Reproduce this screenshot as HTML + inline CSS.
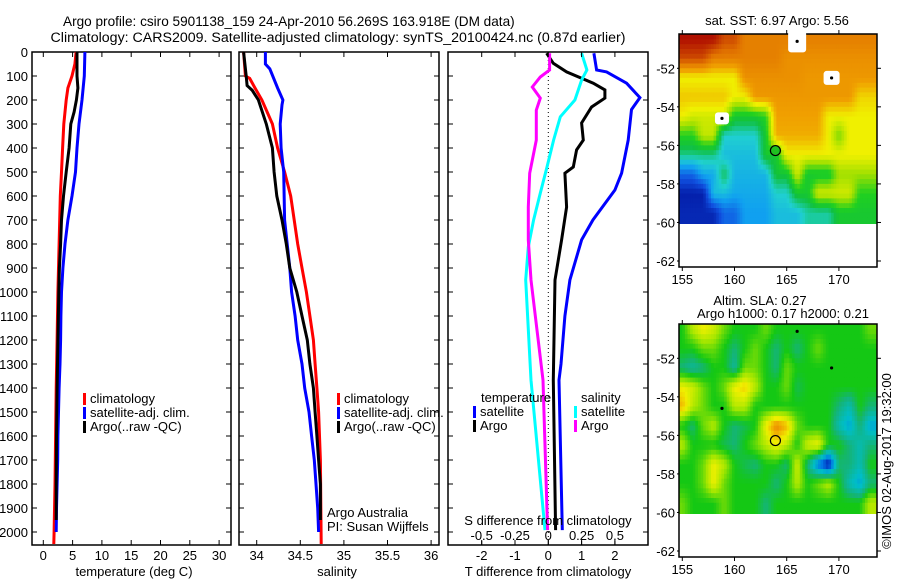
<!DOCTYPE html>
<html><head><meta charset="utf-8">
<style>
body{margin:0;background:#fff;}
svg{display:block;font-family:"Liberation Sans",sans-serif;}
text{fill:#000;}
</style></head>
<body>
<svg id="chart" width="900" height="580" viewBox="0 0 900 580" xmlns="http://www.w3.org/2000/svg">
<defs>
<clipPath id="clipA"><rect x="679" y="34" width="198" height="190"/></clipPath>
<clipPath id="clipB"><rect x="679" y="324" width="198" height="190"/></clipPath>
</defs>
<text x="63" y="26" font-size="13.6" text-anchor="start">Argo profile: csiro 5901138_159 24-Apr-2010 56.269S 163.918E (DM data)</text>
<text x="338" y="42" font-size="14.2" text-anchor="middle">Climatology: CARS2009. Satellite-adjusted climatology: synTS_20100424.nc (0.87d earlier)</text>
<g id="g"></g>
</svg>
<script>
// ---------- data ----------
const tempDepths=[0,50,100,150,200,300,400,500,600,700,800,900,1000,1200,1400,1600,1800,2000,2050];
const tempClim=[5.6,5.4,4.9,4.2,3.9,3.5,3.3,3.1,2.9,2.8,2.7,2.6,2.5,2.35,2.2,2.1,2.0,1.85,1.8];
const satDepths=[0,100,200,300,400,500,600,700,800,900,1000,1100,1200,1300,1400,1500,1600,1700,1800,1900,2000];
const tempSat=[7.1,7.0,6.6,6.1,5.75,5.5,4.9,4.2,3.7,3.35,3.1,3.0,2.95,2.85,2.7,2.6,2.5,2.45,2.35,2.25,2.2];
const argoDepths=[0,100,150,200,250,300,400,500,600,700,800,900,1000,1200,1400,1600,1800,1950];
const tempArgo=[5.75,5.75,5.9,5.65,5.25,4.7,4.4,3.9,3.45,3.1,2.95,2.75,2.65,2.5,2.35,2.25,2.2,2.2];

const salClimDepths=[0,100,110,150,200,300,400,500,600,700,800,900,1000,1100,1200,1300,1400,1500,1700,2050];
const salClim=[33.85,33.87,33.92,33.98,34.06,34.18,34.24,34.32,34.39,34.43,34.47,34.52,34.57,34.61,34.65,34.67,34.69,34.71,34.73,34.74];
const salSatDepths=[0,50,70,150,200,220,300,400,500,700,800,900,1000,1100,1200,1300,1400,1500,1600,1700,1800,1900,2000];
const salSat=[34.1,34.1,34.15,34.24,34.3,34.29,34.27,34.28,34.31,34.32,34.35,34.38,34.4,34.44,34.47,34.52,34.55,34.6,34.63,34.66,34.68,34.7,34.71];
const salArgoDepths=[0,100,140,160,200,300,400,500,600,700,800,900,1000,1100,1200,1300,1400,1500,1600,1700,1800,1950];
const salArgo=[33.85,33.88,33.89,33.95,34.02,34.11,34.18,34.2,34.23,34.29,34.34,34.38,34.46,34.52,34.58,34.61,34.65,34.67,34.69,34.71,34.73,34.73];

const dTSatDepths=[5,75,83,130,190,240,367,505,575,700,783,950,1100,1300,1367,1992];
const dTSat=[1.37,1.45,1.75,2.35,2.75,2.5,2.4,2.2,2.0,1.34,1.0,0.65,0.5,0.38,0.32,0.42];
const dTArgoDepths=[5,47,83,130,158,192,229,296,367,408,479,505,646,783,950,1367,1992];
const dTArgo=[-0.05,0.15,0.55,1.35,1.7,1.7,1.3,1.0,1.05,0.85,0.75,0.5,0.55,0.4,0.2,0.15,0.22];
const dSSatDepths=[5,75,117,200,270,367,479,588,700,812,950,1367,1992];
const dSSat=[0.25,0.29,0.25,0.2,0.09,0.04,-0.01,-0.06,-0.11,-0.15,-0.17,-0.13,-0.025];
const dSArgoDepths=[5,75,104,146,192,242,367,505,646,783,950,1367,1992];
const dSArgo=[0.01,0.01,-0.06,-0.12,-0.06,-0.09,-0.09,-0.14,-0.15,-0.15,-0.13,-0.04,-0.005];

const depthTicks=[0,100,200,300,400,500,600,700,800,900,1000,1100,1200,1300,1400,1500,1600,1700,1800,1900,2000];
const tempTicks=[0,5,10,15,20,25,30];
const salTicks=[34,34.5,35,35.5,36];
const salTickLabels=["34","34.5","35","35.5","36"];
const dTTicks=[-2,-1,0,1,2];
const dSTicks=[-0.5,-0.25,0,0.25,0.5];
const dSTickLabels=["-0.5","-0.25","0","0.25","0.5"];
const lonTicks=[155,160,165,170];
const latTicks=[-52,-54,-56,-58,-60,-62];

const sstRows=[
[9,9,9,9,8.5,8.5,8,8,8,8,8,8,8,8,8,8,8,8,8],
[8.5,8.5,8.5,8,8,8,8,8,8,8,7.8,7.8,7.8,7.8,7.8,7.8,7.8,7.8,7.8],
[7,7,7,7,7,7,7.8,7.8,7.8,7.8,7.8,7.8,7.7,7.7,7.7,7.7,7.7,7.7,7.7],
[7.3,7.3,7.3,7.3,7.3,7,7,7.7,7.7,7.7,7.7,7.7,7.7,7.7,7.7,7.7,7.7,7.2,7.2],
[7,6.8,6.8,6.8,6.8,5.8,5.8,5.8,6,7.6,7.6,7.6,7.6,7.6,7,7,7,7,7],
[6,6,6.7,6.7,5,5,5,5,5.8,7.5,7.5,7.5,7.5,7.5,7,6.3,7,7,7],
[5.3,5.3,5.3,5.3,4.8,4.8,4.8,4.8,5.8,5.8,7,7,7,7,7,7,7,7,7],
[4,4,4.6,4.6,5.5,4.7,4.7,4.7,4.7,5.7,5.7,6.8,5.8,5.8,5.8,6.5,6.5,6.5,6.5],
[3.2,3.2,3.2,4.8,4.8,4.6,4.6,4.6,4.6,5,5,5.8,5.8,6.8,6.8,6.8,6.8,6,6],
[3.3,3.3,3.3,3.3,4,4,4.5,4.5,4.5,4.8,4.8,4.8,5.2,5.2,5.2,5.8,5.8,5.8,5.8]];
const slaRows=[
[0,0.1,0.15,0.12,0.05,0,0,0,0.05,0,0,0,0,0,0,0,0,0,0.05],
[0,0,0.05,0.05,0,-0.05,0,0.05,0,-0.05,0,-0.05,0,0.05,0,0,0,0,0],
[-0.05,-0.08,-0.05,0,0,-0.08,0.05,0.05,0,-0.05,0.05,0,0,0,0,0,0,0,0],
[0.15,0.12,0.05,0,0.05,0.15,0.18,0.1,0,0,0.05,-0.03,0,0,0,0,0,0,0],
[0.2,0.1,0.05,0,0,0.1,0.1,0,0,0,0,0,0,0,0,-0.05,-0.1,0,-0.05],
[0,-0.05,0.05,0.1,0,-0.05,-0.03,0,0.15,0.25,0.2,0.05,0,0,0,-0.1,-0.15,-0.05,-0.15],
[0.1,0,0,0,-0.03,-0.05,0,0.05,0.1,0.15,0.1,0,0.12,0.15,0,0,-0.05,-0.1,-0.05],
[0,0,0.05,0.15,0.1,0,-0.03,-0.05,0,0,-0.05,0.12,-0.05,-0.2,-0.3,-0.05,-0.05,-0.1,0],
[0,0,0.05,0.15,0.05,0,0,0,0,-0.05,0,0.1,0,0.05,0.1,0,-0.1,-0.15,-0.05],
[0.05,0,0,0,0.05,0,0,0,-0.05,0,0,0,0,0,0,0,0,0,0.1]];
const argoLon=163.918, argoLat=-56.269;

// ---------- helpers ----------
const NS="http://www.w3.org/2000/svg";
const G=document.getElementById('g');
function el(tag,attrs,parent){const e=document.createElementNS(NS,tag);for(const k in attrs)e.setAttribute(k,attrs[k]);(parent||G).appendChild(e);return e;}
function txt(x,y,s,size,anchor,parent){const t=el('text',{x:x,y:y,'font-size':size,'text-anchor':anchor||'start'},parent);t.textContent=s;return t;}
const yD=d=>52+d*0.24;
const xT=v=>43.3+v*5.86;
const xS=v=>256.7+(v-34)*87.2;
const xDT=v=>548.3+v*33.3;
const xDS=v=>548.3+v*133.2;

function frame(x0,x1,name){
  const r=el('rect',{x:x0,y:52,width:x1-x0,height:493,fill:'none',stroke:'#000','stroke-width':1.5});
  
  
  depthTicks.forEach(d=>{el('line',{x1:x0,x2:x0+5,y1:yD(d),y2:yD(d),stroke:'#000'});el('line',{x1:x1,x2:x1-5,y1:yD(d),y2:yD(d),stroke:'#000'});});
}
function series(ds,vs,xf,color,name){
  const pts=ds.map((d,i)=>xf(vs[i]).toFixed(1)+','+yD(d).toFixed(1)).join(' ');
  const p=el('polyline',{points:pts,fill:'none',stroke:color,'stroke-width':3,'stroke-linejoin':'miter'});
  
  
}
function legendEntry(x,y,color,label,name){
  const g=el('g',{});
  
  
  el('rect',{x:x,y:y-10,width:3,height:12,fill:color},g);
  txt(x+7,y,label,13,'start',g);
}

// ---------- panel 1: temperature ----------
frame(32,231,'temperature-panel');
depthTicks.forEach(d=>{txt(28,yD(d)+5,String(d),13,'end');});
tempTicks.forEach(v=>{el('line',{x1:xT(v),x2:xT(v),y1:545,y2:540,stroke:'#000'});el('line',{x1:xT(v),x2:xT(v),y1:52,y2:57,stroke:'#000'});txt(xT(v),560,String(v),13,'middle');});
txt(134,576,'temperature (deg C)',13,'middle');
series(tempDepths,tempClim,xT,'#ff0000','temp-climatology-line');
series(satDepths,tempSat,xT,'#0000ff','temp-satellite-line');
series(argoDepths,tempArgo,xT,'#000000','temp-argo-line');
legendEntry(83,403,'#ff0000','climatology','legend-climatology');
legendEntry(83,417,'#0000ff','satellite-adj. clim.','legend-satellite');
legendEntry(83,431,'#000000','Argo(..raw -QC)','legend-argo');

// ---------- panel 2: salinity ----------
frame(239,439,'salinity-panel');
salTicks.forEach((v,i)=>{el('line',{x1:xS(v),x2:xS(v),y1:545,y2:540,stroke:'#000'});el('line',{x1:xS(v),x2:xS(v),y1:52,y2:57,stroke:'#000'});txt(xS(v),560,salTickLabels[i],13,'middle');});
txt(337,576,'salinity',13,'middle');
series(salClimDepths,salClim,xS,'#ff0000','sal-climatology-line');
series(salSatDepths,salSat,xS,'#0000ff','sal-satellite-line');
series(salArgoDepths,salArgo,xS,'#000000','sal-argo-line');
legendEntry(337,403,'#ff0000','climatology','legend-sal-climatology');
legendEntry(337,417,'#0000ff','satellite-adj. clim.','legend-sal-satellite');
legendEntry(337,431,'#000000','Argo(..raw -QC)','legend-sal-argo');
txt(327,517,'Argo Australia',13,'start');
txt(327,531,'PI: Susan Wijffels',13,'start');

// ---------- panel 3: differences ----------
frame(448,648,'difference-panel');
el('line',{x1:548.3,x2:548.3,y1:52,y2:545,stroke:'#000','stroke-dasharray':'1,3'});
series(dTSatDepths,dTSat,xDT,'#0000ff','dT-satellite-line');
series(dTArgoDepths,dTArgo,xDT,'#000000','dT-argo-line');
series(dSSatDepths,dSSat,xDS,'#00ffff','dS-satellite-line');
series(dSArgoDepths,dSArgo,xDS,'#ff00ff','dS-argo-line');
dTTicks.forEach(v=>{el('line',{x1:xDT(v),x2:xDT(v),y1:545,y2:540,stroke:'#000'});el('line',{x1:xDT(v),x2:xDT(v),y1:52,y2:57,stroke:'#000'});txt(xDT(v),560,String(v),13,'middle');});
dSTicks.forEach((v,i)=>{el('line',{x1:xDS(v),x2:xDS(v),y1:545,y2:541,stroke:'#000'});txt(xDS(v),540,dSTickLabels[i],13,'middle');});
txt(548,525,'S difference from climatology',13,'middle');
txt(548,576,'T difference from climatology',13,'middle');
txt(481,402,'temperature',13,'start');
txt(581,402,'salinity',13,'start');
legendEntry(473,416,'#0000ff','satellite','legend-dT-satellite');
legendEntry(473,430,'#000000','Argo','legend-dT-argo');
legendEntry(574,416,'#00ffff','satellite','legend-dS-satellite');
legendEntry(574,430,'#ff00ff','Argo','legend-dS-argo');

// ---------- maps ----------
const lonX=l=>682.3+(l-155)*10.44;
const latY=(l,top)=>top+34.3+(-52-l)*19.27;
function lerpColor(stops,v){
  if(v<=stops[0][0]){const c=stops[0][1];return 'rgb('+c.join(',')+')';}
  for(let i=1;i<stops.length;i++){if(v<=stops[i][0]){const a=stops[i-1],b=stops[i],t=(v-a[0])/(b[0]-a[0]);
    const ca=a[1],cb=b[1];return 'rgb('+[0,1,2].map(k=>Math.round(ca[k]+(cb[k]-ca[k])*t)).join(',')+')';}}
  const c=stops[stops.length-1][1];return 'rgb('+c.join(',')+')';
}
const sstStops=[[3,[0,16,154]],[3.8,[16,80,224]],[4.5,[16,160,240]],[5,[32,208,208]],[5.6,[16,192,64]],[6,[32,208,32]],[6.5,[160,224,0]],[7,[240,240,0]],[7.6,[240,160,0]],[8.2,[224,112,0]],[9,[176,16,0]]];
const slaStops=[[-0.3,[0,0,160]],[-0.2,[0,120,230]],[-0.12,[0,190,200]],[-0.05,[20,180,120]],[0,[20,200,20]],[0.08,[160,230,0]],[0.15,[240,240,0]],[0.22,[240,160,0]],[0.3,[220,90,0]]];
// bilinear sample of grid (cell centres at lon 155+c, lat -50.5-r)
function sample(rows,lon,lat){
  let fc=lon-155, fr=-50.5-lat;
  const nr=rows.length, nc=rows[0].length;
  fc=Math.max(0,Math.min(nc-1,fc)); fr=Math.max(0,Math.min(nr-1,fr));
  const c0=Math.floor(fc), r0=Math.floor(fr), c1=Math.min(nc-1,c0+1), r1=Math.min(nr-1,r0+1);
  const tc=fc-c0, tr=fr-r0;
  const a=rows[r0][c0]*(1-tc)+rows[r0][c1]*tc, b=rows[r1][c0]*(1-tc)+rows[r1][c1]*tc;
  return a*(1-tr)+b*tr;
}
function drawMap(top,rows,stops,clip,name,marker){
  const g=el('g',{'clip-path':'url(#'+clip+')'});
  
  
  const step=0.25;
  for(let lat=-49.75;lat>-60.01;lat-=step){
    for(let lon=154.5;lon<174;lon+=step){
      const v=sample(rows,lon+step/2,lat-step/2);
      const xa=lonX(lon), ya=latY(lat,top);
      el('rect',{x:xa.toFixed(1),y:ya.toFixed(1),width:(step*10.44+0.5).toFixed(1),height:(step*19.27+0.5).toFixed(1),fill:lerpColor(stops,v)},g);
    }
  }
  const f=el('rect',{x:679,y:top,width:198,height:233,fill:'none',stroke:'#000','stroke-width':1.5});
  
  
  lonTicks.forEach(l=>{el('line',{x1:lonX(l),x2:lonX(l),y1:top,y2:top-4,stroke:'#000'});el('line',{x1:lonX(l),x2:lonX(l),y1:top+233,y2:top+237,stroke:'#000'});txt(lonX(l),top+250,String(l),13,'middle');});
  latTicks.forEach(l=>{const y=latY(l,top);el('line',{x1:677,x2:679,y1:y,y2:y,stroke:'#000'});el('line',{x1:877,x2:881,y1:y,y2:y,stroke:'#000'});txt(675,y+5,String(l),13,'end');});
  return g;
}
drawMap(34,sstRows,sstStops,'clipA','sst-map');
[[166,-50.6,18,22],[169.3,-52.5,16,14],[158.8,-54.6,14,12]].forEach(a=>{el('rect',{x:lonX(a[0])-a[2]/2,y:latY(a[1],34)-a[3]/2,width:a[2],height:a[3],fill:'#fff',rx:3});el('circle',{cx:lonX(a[0]),cy:latY(a[1],34),r:1.6,fill:'#000'});});
const m1=el('circle',{cx:lonX(argoLon),cy:latY(argoLat,34),r:5,fill:'#20c020',stroke:'#000','stroke-width':1.2});


drawMap(324,slaRows,slaStops,'clipB','sla-map');
[[166,-50.6],[169.3,-52.5],[158.8,-54.6]].forEach(a=>{el('circle',{cx:lonX(a[0]),cy:latY(a[1],324),r:1.6,fill:'#000'});});
const m2=el('circle',{cx:lonX(argoLon),cy:latY(argoLat,324),r:5,fill:'none',stroke:'#000','stroke-width':1.2});


txt(777,25,'sat. SST: 6.97 Argo: 5.56',13,'middle');
txt(760,305,'Altim. SLA: 0.27',13,'middle');
txt(783,318,'Argo h1000: 0.17 h2000: 0.21',13,'middle');
const c=txt(0,0,'©IMOS 02-Aug-2017 19:32:00',13,'middle');
c.setAttribute('transform','translate(891,461) rotate(-90)');


</script>
</body></html>
